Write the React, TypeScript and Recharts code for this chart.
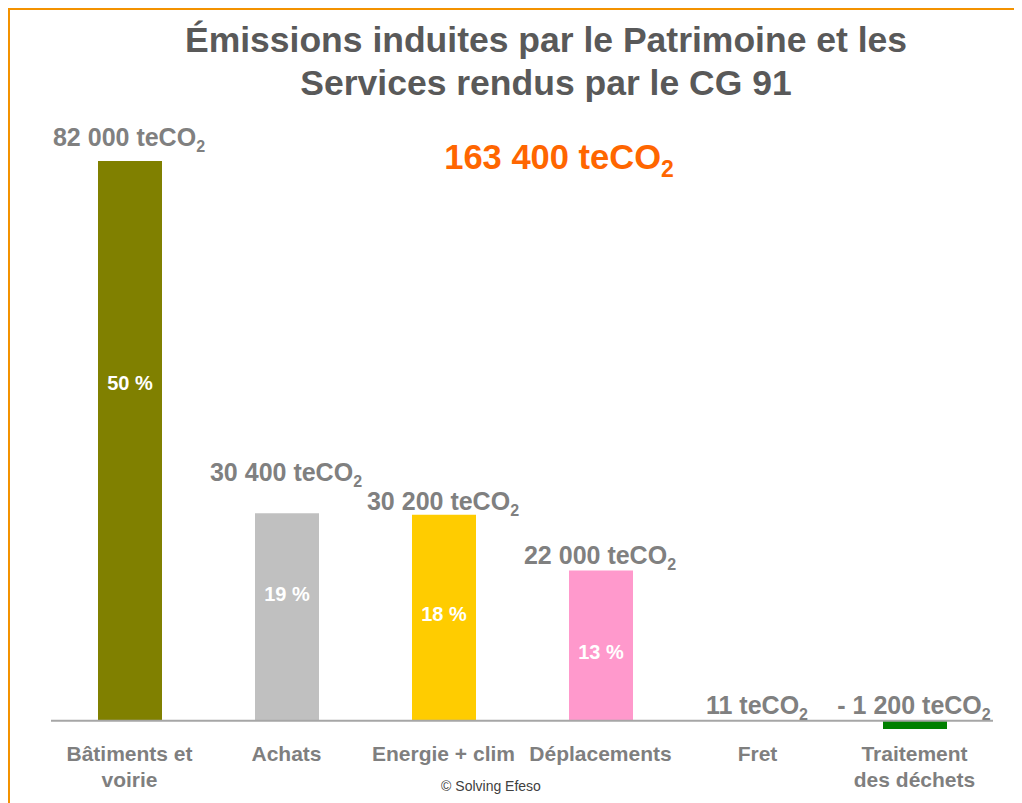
import { BarChart, Bar, XAxis, YAxis, Cell, LabelList, ReferenceLine } from 'recharts'

const categories = ['Bâtiments et\nvoirie', 'Achats', 'Energie + clim', 'Déplacements', 'Fret', 'Traitement\ndes déchets']
const emissions = [82000, 30400, 30200, 22000, 11, -1200]
const shares: (number | null)[] = [50, 19, 18, 13, null, null]
const totalEmissions = 163400
const barColors = ['#808000', '#c0c0c0', '#ffcc00', '#ff99cc', '#9999ff', '#008000']

// labels were hand-placed on the slide, so nudge them the same way
const valueLift = [15, 32, 5, 7, 7, 7]
const shareAt = [0.396, 0.39, 0.484, 0.544, 0.5, 0.5]

const FONT = '"Liberation Sans", Arial, Helvetica, sans-serif'

const data = categories.map((name, idx) => ({ name, idx, value: emissions[idx] }))

const fmt = (v: number) => {
  const s = Math.abs(v).toString().replace(/\B(?=(\d{3})+(?!\d))/g, ' ')
  return v < 0 ? `- ${s}` : s
}

function ValueLabel(props: any) {
  const { x, y, width, height, value } = props
  const i = Number(value)
  const top = Math.min(Number(y), Number(y) + Number(height))
  return (
    <text
      x={Number(x) + Number(width) / 2 - 1}
      y={top - valueLift[i]}
      textAnchor="middle"
      fill="#808080"
      fontSize={25}
      fontWeight="bold"
      fontFamily={FONT}
    >
      {fmt(emissions[i])} teCO<tspan fontSize={16} dy={6}>2</tspan>
    </text>
  )
}

function ShareLabel(props: any) {
  const { x, y, width, height, value } = props
  const i = Number(value)
  if (shares[i] == null) return null
  const top = Math.min(Number(y), Number(y) + Number(height))
  const cy = top + Math.abs(Number(height)) * shareAt[i]
  return (
    <text
      x={Number(x) + Number(width) / 2}
      y={cy + 7}
      textAnchor="middle"
      fill="#ffffff"
      fontSize={20}
      fontWeight="bold"
      fontFamily={FONT}
    >
      {shares[i]} %
    </text>
  )
}

function CategoryTick({ x, y, payload }: any) {
  const lines = String(payload.value).split('\n')
  return (
    <text x={x} y={y} textAnchor="middle" fill="#7f7f7f" fontSize={21} fontWeight="bold" fontFamily={FONT}>
      {lines.map((l, i) => (
        <tspan key={i} x={x} dy={i === 0 ? 32 : 26}>{l}</tspan>
      ))}
    </text>
  )
}

export default function App() {
  return (
    <div style={{ position: 'relative', width: 1014, height: 795, background: '#fff' }}>
      <div style={{ position: 'absolute', left: -1, top: -1, width: 1015, height: 3, background: '#f39200' }} />
      <div style={{ position: 'absolute', left: -1, top: -1, width: 3, height: 796, background: '#f39200' }} />

      <BarChart width={1014} height={795} data={data} margin={{ top: 153, right: 29, left: 43, bottom: 14 }}>
        <XAxis
          dataKey="name"
          axisLine={false}
          tickLine={false}
          tickSize={0}
          tickMargin={0}
          height={60}
          interval={0}
          tick={<CategoryTick />}
        />
        <YAxis hide domain={[-1200, 82000]} />
        <Bar dataKey="value" barSize={64} isAnimationActive={false}>
          {data.map((d) => (
            <Cell key={d.name} fill={barColors[d.idx]} />
          ))}
          <LabelList dataKey="idx" content={<ValueLabel />} />
          <LabelList dataKey="idx" content={<ShareLabel />} />
        </Bar>
        <ReferenceLine y={0} stroke="#a6a6a6" strokeWidth={2} />
      </BarChart>

      <svg width={1014} height={795} style={{ position: 'absolute', left: 0, top: 0, pointerEvents: 'none' }}>
        <text x={538} y={44} textAnchor="middle" fill="#595959" fontSize={35.5} fontWeight="bold" fontFamily={FONT}>
          Émissions induites par le Patrimoine et les
        </text>
        <text x={538} y={87} textAnchor="middle" fill="#595959" fontSize={35.5} fontWeight="bold" fontFamily={FONT}>
          Services rendus par le CG 91
        </text>
        <text x={551} y={161} textAnchor="middle" fill="#ff6600" fontSize={34.5} fontWeight="bold" fontFamily={FONT}>
          {fmt(totalEmissions)} teCO<tspan fontSize={23} dy={8}>2</tspan>
        </text>
        <text x={483} y={783} textAnchor="middle" fill="#404040" fontSize={14} fontFamily={FONT}>
          © Solving Efeso
        </text>
      </svg>
    </div>
  )
}
